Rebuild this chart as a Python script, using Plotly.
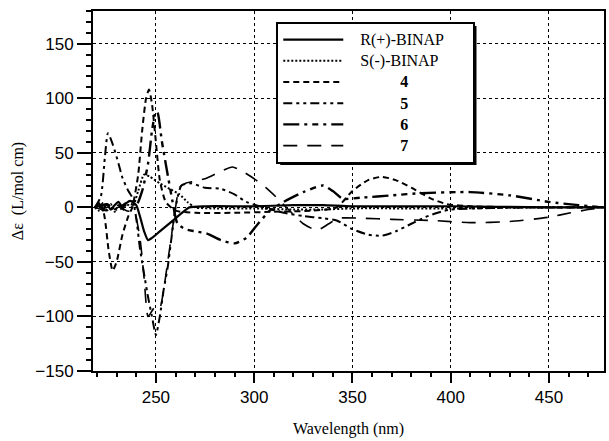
import plotly.graph_objects as go

# ---------------- data ----------------
r_x = [219, 221, 223, 225, 227, 229, 231, 233, 235, 237, 240, 242, 244, 246, 248, 252, 256, 260, 264, 267, 275, 300, 320, 335, 350, 400, 450, 478]
r_y = [0, 4, -3, 3, -2, 2, 5, 0, 4, 6, 2, -9, -22, -30, -28, -22, -16, -10, -4, 0, 1, 1, 2, 2, 1, 1, 0, 0]

s_x = [219, 221, 223, 225, 227, 229, 231, 233, 235, 238, 241, 244, 247, 252, 257, 262, 266, 270, 280, 300, 320, 335, 350, 400, 450, 478]
s_y = [0, -3, 4, -2, 3, -4, 2, -3, 3, 0, 15, 30, 28, 22, 17, 12, 5, 0, -1, -1, -2, -2, -1, -1, 0, 0]

c4_x = [219, 222, 224, 226, 228, 230, 233, 236, 238, 241, 243, 245, 246.5, 248, 250, 252, 255, 260, 270, 290, 310, 330, 342, 350, 358, 365, 372, 380, 390, 398, 410, 440, 478]
c4_y = [0, 5, -10, -40, -58, -50, -25, -8, 0, 30, 70, 100, 108, 95, 60, 25, 5, -3, -5, -5, -4, -3, 0, 15, 25, 28, 25, 18, 8, 3, 1, 0, 0]

c5_x = [219, 222, 224, 225.6, 228, 231, 233, 236, 238, 240, 242, 246, 248, 250, 252, 254, 256, 258, 260, 263, 268, 275, 283, 290, 296, 305, 315, 325, 335, 342, 350, 358, 365, 372, 380, 387, 395, 400, 440, 478]
c5_y = [0, 10, 45, 68, 58, 40, 27, 15, 9, -10, -39, -82, -100, -117, -100, -75, -55, -27, 0, 20, 22, 18, 17, 12, 5, 0, -5, -8, -10, -12, -20, -25, -26, -22, -15, -9, -4, -2, 0, 0]

c6_x = [219, 225, 230, 235, 240, 243, 246, 248, 250, 251, 253, 255.5, 258.5, 261, 265, 270, 276, 283, 290, 296, 302, 308, 315, 325, 335, 340, 345, 355, 370, 385, 410, 430, 450, 465, 478]
c6_y = [0, 3, -2, 4, 2, 15, 40, 70, 88, 86, 61, 35, 5, -15, -20, -22, -24, -30, -33, -28, -15, -3, 5, 14, 20, 15, 8, 9, 11, 13, 14, 11, 5, 2, 0]

c7_x = [219, 225, 230, 235, 239, 242, 244, 246, 248, 250, 252, 254, 256, 258, 260, 262, 265, 270, 276, 283, 289, 295, 301, 306, 312, 318, 325, 332, 338, 343, 355, 370, 390, 410, 430, 450, 461, 470, 478]
c7_y = [0, -3, 2, -3, -5, -30, -65, -100, -95, -90, -92, -75, -50, -25, 0, 18, 22, 24, 27, 33, 37, 32, 25, 18, 8, -3, -15, -21, -15, -10, -10, -11, -12, -14, -13, -9, -5, -2, 0]

names = ["R(+)-BINAP", "S(-)-BINAP", "4", "5", "6", "7"]
xs = [r_x, s_x, c4_x, c5_x, c6_x, c7_x]
ys = [r_y, s_y, c4_y, c5_y, c6_y, c7_y]

x_ticks = [250, 300, 350, 400, 450]
y_ticks = [-150, -100, -50, 0, 50, 100, 150]

# ---------------- styles ----------------
dashes = ["solid", "2px,2px", "6px,4px", "9px,4px,3px,4px,3px,4px",
          "16px,5px,3px,5px,6px,5px,3px,5px", "14px,10px"]
widths = [2.2, 2, 2, 2, 2.4, 1.6]
NB = "\u00a0"
SPAN = '<span style="font-size:16px">{}</span>'
labels = [SPAN.format(NB * 3 + names[0] + NB * 6), SPAN.format(NB * 3 + names[1])] + \
         [SPAN.format(NB * 13 + "<b>" + n + "</b>") for n in names[2:]]

fig = go.Figure()
for x, y, lab, d, w in zip(xs, ys, labels, dashes, widths):
    fig.add_trace(go.Scatter(x=x, y=y, mode="lines", name=lab,
                             line=dict(color="black", width=w, dash=d,
                                       shape="spline", smoothing=0.6)))

axis_common = dict(
    showline=True, linecolor="black", linewidth=2, mirror=True,
    ticks="outside", tickwidth=1.5, tickcolor="black",
    showgrid=True, gridcolor="black", gridwidth=1, griddash="dot",
    zeroline=False,
    tickfont=dict(family="Liberation Sans, Arial", size=17, color="black"),
)

fig.update_xaxes(range=[218, 478], tickvals=x_ticks, ticklen=10, **axis_common,
                 minor=dict(dtick=10, ticks="outside", ticklen=4, tickcolor="black", showgrid=False),
                 title=dict(text="Wavelength (nm)", standoff=16,
                            font=dict(family="Liberation Serif, Times New Roman", size=16, color="black")))
fig.update_yaxes(range=[-150, 180], tickvals=y_ticks, ticklen=14, **axis_common,
                 minor=dict(dtick=10, ticks="outside", ticklen=5, tickcolor="black", showgrid=False),
                 title=dict(text="Δε" + NB * 2 + "(L/mol cm)", standoff=8,
                            font=dict(family="Liberation Serif, Times New Roman", size=16, color="black")))

# legend shadow (drawn beneath the legend box)
fig.add_shape(type="rect", xref="paper", yref="paper",
              x0=(281 - 93) / 513, x1=(478 - 93) / 513,
              y0=(371 - 165) / 360, y1=(371 - 26) / 360,
              fillcolor="black", line=dict(width=0), layer="above")

fig.update_layout(
    width=609, height=441,
    margin=dict(l=93, r=3, t=11, b=70),
    paper_bgcolor="white", plot_bgcolor="white",
    showlegend=True,
    legend=dict(x=(277 - 93) / 513, y=(371 - 22) / 360, xanchor="left", yanchor="top",
                bgcolor="white", bordercolor="black", borderwidth=2,
                font=dict(family="Liberation Serif, Times New Roman", size=14, color="black"),
                itemwidth=60, tracegroupgap=0),
)

fig.write_html("out.html")
